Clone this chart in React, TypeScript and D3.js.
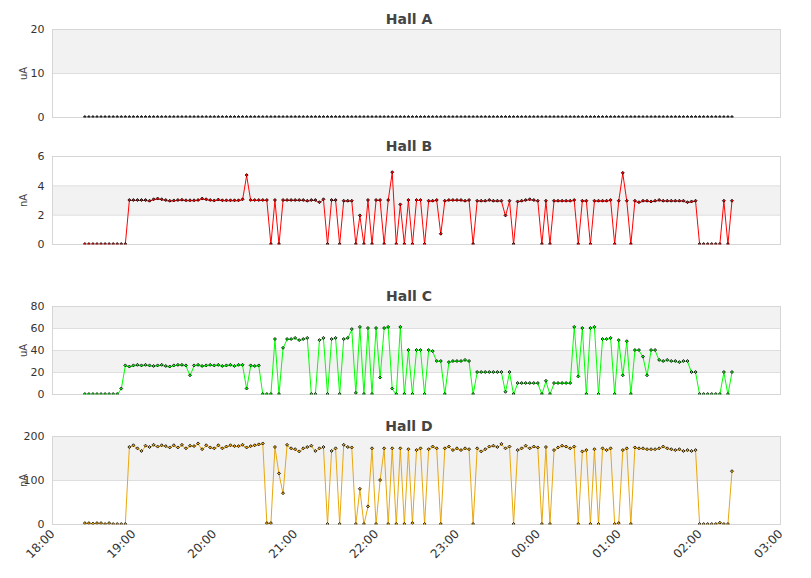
import React from "react";
import * as d3 from "d3";

// readings come every 3 minutes, 18:24 -> 02:24
const firstReading = new Date(2024, 0, 1, 18, 24);
const stepMinutes = 3;
const axisStart = new Date(2024, 0, 1, 18, 0);
const axisEnd = new Date(2024, 0, 2, 3, 0);

const hallA = [
  0, 0, 0, 0, 0, 0, 0, 0, 0, 0, 0, 0, 0, 0, 0, 0, 0, 0, 0, 0,
  0, 0, 0, 0, 0, 0, 0, 0, 0, 0, 0, 0, 0, 0, 0, 0, 0, 0, 0, 0,
  0, 0, 0, 0, 0, 0, 0, 0, 0, 0, 0, 0, 0, 0, 0, 0, 0, 0, 0, 0,
  0, 0, 0, 0, 0, 0, 0, 0, 0, 0, 0, 0, 0, 0, 0, 0, 0, 0, 0, 0,
  0, 0, 0, 0, 0, 0, 0, 0, 0, 0, 0, 0, 0, 0, 0, 0, 0, 0, 0, 0,
  0, 0, 0, 0, 0, 0, 0, 0, 0, 0, 0, 0, 0, 0, 0, 0, 0, 0, 0, 0,
  0, 0, 0, 0, 0, 0, 0, 0, 0, 0, 0, 0, 0, 0, 0, 0, 0, 0, 0, 0,
  0, 0, 0, 0, 0, 0, 0, 0, 0, 0, 0, 0, 0, 0, 0, 0, 0, 0, 0, 0,
  0,
];

const hallB = [
  0, 0, 0, 0, 0, 0, 0, 0, 0, 0, 0,
  3.0, 3.0, 3.0, 3.0, 3.0, 2.95, 3.05, 3.1, 3.05, 3.0, 2.95, 2.97, 3.0, 3.02, 2.98,
  2.98, 2.98, 3.0, 3.1, 3.05, 3.0, 2.97, 3.03, 2.98, 2.98, 2.98, 2.98, 2.98, 3.05,
  4.7,
  3.0, 3.0, 3.0, 3.0, 3.0,
  0, 3.0, 0,
  3.0, 3.0, 3.0, 3.0, 3.0, 3.0, 2.95, 3.0, 3.0, 2.85, 3.05,
  0, 3.0, 3.0, 0, 2.95, 2.95, 2.95,
  0, 1.95, 0, 3.0, 0, 3.0, 3.0, 0, 3.0, 4.9, 0, 2.7, 0, 3.0, 0, 3.0, 3.0, 0,
  2.95, 2.95, 3.0, 0.7,
  2.95, 3.0, 3.0, 3.0, 3.0, 2.95, 3.0,
  0,
  2.95, 2.95, 2.95, 3.0, 2.95, 2.95, 2.95,
  1.95, 2.95, 0, 2.9,
  2.95, 3.0, 3.05, 3.0, 2.95,
  0, 2.95, 0,
  2.95, 2.95, 2.95, 2.95, 2.95, 3.0,
  0, 2.95, 2.95, 0,
  2.95, 2.95, 2.95, 2.95, 3.0,
  0, 2.95, 4.85, 2.95, 0,
  2.95, 2.85, 2.95, 2.95, 2.9, 2.95, 3.0, 2.95, 2.95, 2.95, 2.95, 2.95, 2.95, 2.85, 2.9, 2.95,
  0, 0, 0, 0, 0, 0,
  2.95, 0, 2.95,
];

const hallC = [
  0, 0, 0, 0, 0, 0, 0, 0, 0, 5,
  26, 25, 26, 26.5, 26, 26.5, 26, 25.5, 26, 26.5, 25.5, 25, 26, 26.5, 26.5,
  26, 17, 26, 26.5, 25.5, 26, 26.5, 26, 26.5, 25.5, 26, 26.5, 25.5, 26.5, 26.5,
  5, 26, 25.5, 26,
  0, 0, 0,
  50, 0, 42,
  50, 50, 51, 49, 50, 51,
  0, 0,
  49, 51, 0, 50, 51, 0, 50, 51, 59, 1, 61, 0, 60, 0, 60, 15, 60, 61, 5, 0,
  61, 0, 40, 0, 40, 40, 0, 40, 39, 30, 30, 0,
  29, 30, 30, 30, 31, 30,
  0,
  20, 20, 20, 20, 20, 20, 20,
  2, 20, 0,
  10, 10, 10, 10, 10, 10,
  0, 12, 0,
  10, 10, 10, 10, 10,
  61, 16, 60, 0, 60, 61, 0,
  50, 50, 51,
  0, 49, 17, 48, 0,
  40, 40, 34, 17, 40, 40, 31,
  30, 31, 30, 30, 29, 30, 30,
  20, 20,
  0, 0, 0, 0, 0, 0,
  20, 0, 20,
];

const hallD = [
  2, 2, 1, 2, 2, 0, 2, 0, 0, 0, 0,
  175, 179, 172, 166, 178, 175, 180, 176, 179, 177, 174, 179, 174, 180, 172, 178, 177,
  183, 170, 179, 174, 172, 179, 172, 176, 179, 177, 177, 180, 174, 177, 179, 181, 183,
  2, 2,
  175, 115, 70, 180,
  172, 170, 165, 172, 175, 178, 166, 172, 175,
  0, 166, 172, 0, 180, 175, 174,
  0, 80, 0, 40, 172, 0, 100, 172, 0, 172, 0, 172, 0, 170, 2, 168, 172, 0,
  170, 176, 172, 0,
  172, 176, 168, 172, 168, 172, 170,
  0,
  172, 165, 170, 176, 178, 175, 182, 172, 176,
  0,
  168, 172, 178, 172, 176, 174,
  0, 175, 0,
  168, 174, 178, 176, 172, 176,
  0, 165, 168, 0, 170, 0, 172, 168, 172, 0, 2, 168, 172, 0,
  174, 172, 172, 170, 170, 170, 172, 176, 172, 170, 168, 170, 166, 168, 166, 168,
  0, 0, 0, 0, 0, 3, 0, 0,
  120,
];

const ticksA = [0, 10, 20];
const ticksB = [0, 2, 4, 6];
const ticksC = [0, 20, 40, 60, 80];
const ticksD = [0, 100, 200];

const panels = [
  { title: "Hall A", unit: "uA", ticks: ticksA, values: hallA, color: "#222222", top: 29 },
  { title: "Hall B", unit: "nA", ticks: ticksB, values: hallB, color: "#ff0000", top: 156 },
  { title: "Hall C", unit: "uA", ticks: ticksC, values: hallC, color: "#00ff00", top: 306 },
  { title: "Hall D", unit: "nA", ticks: ticksD, values: hallD, color: "#e8a70f", top: 436 },
];

const W = 811;
const H = 578;
const left = 52.5;
const right = 780.5;
const plotH = 88;
const font = "'DejaVu Sans', sans-serif";

const x = d3.scaleTime().domain([axisStart, axisEnd]).range([left, right]);
const times = hallA.map((_, i) => d3.timeMinute.offset(firstReading, i * stepMinutes));

function Panel({ p, idx, last }) {
  const top = p.top + 0.5;
  const bottom = top + plotH;
  const y = d3
    .scaleLinear()
    .domain([0, p.ticks[p.ticks.length - 1]])
    .range([bottom, top]);
  const line = d3
    .line<number>()
    .x((_, i) => x(times[i]))
    .y((d) => y(d));
  const clipId = `clip-${idx}`;

  return (
    <g>
      <defs>
        <clipPath id={clipId}>
          <rect x={left} y={top} width={right - left} height={plotH} />
        </clipPath>
      </defs>

      {/* alternating bands */}
      {p.ticks.slice(0, -1).map((t, k) =>
        k % 2 === 1 ? (
          <rect
            key={t}
            x={left}
            y={y(p.ticks[k + 1])}
            width={right - left}
            height={y(t) - y(p.ticks[k + 1])}
            fill="#f2f2f2"
          />
        ) : null
      )}

      {p.ticks.map((t) => (
        <g key={t}>
          <line x1={left} x2={right} y1={y(t)} y2={y(t)} stroke="#dedede" />
          <text
            x={left - 8}
            y={y(t)}
            dy="0.35em"
            textAnchor="end"
            fontSize={11}
            fill="#333"
            fontFamily={font}
          >
            {t}
          </text>
        </g>
      ))}

      <path
        d={line(p.values) || ""}
        fill="none"
        stroke={p.color}
        strokeWidth={1}
        clipPath={`url(#${clipId})`}
      />

      <rect
        x={left}
        y={top}
        width={right - left}
        height={plotH}
        fill="none"
        stroke="#d6d6d6"
      />

      {/* point markers: tiny diamonds */}
      <g clipPath={`url(#${clipId})`}>
        {p.values.map((v, i) => {
          const cx = x(times[i]);
          const cy = y(v) - 0.5;
          return (
            <path
              key={i}
              d={`M${cx},${cy - 1.5}L${cx + 1.5},${cy}L${cx},${cy + 1.5}L${cx - 1.5},${cy}Z`}
              fill={p.color}
              stroke="#000"
              strokeWidth={0.8}
            />
          );
        })}
      </g>

      <text
        x={409}
        y={p.top - 5}
        textAnchor="middle"
        fontSize={14}
        fontWeight="bold"
        fill="#444"
        fontFamily={font}
      >
        {p.title}
      </text>

      <text
        transform={`translate(27,${(top + bottom) / 2}) rotate(-90)`}
        textAnchor="middle"
        fontSize={10}
        fill="#444"
        fontFamily={font}
      >
        {p.unit}
      </text>

      {last &&
        x.ticks(d3.timeHour.every(1)).map((t) => (
          <text
            key={+t}
            transform={`translate(${x(t) + 3},${bottom + 10}) rotate(-45)`}
            textAnchor="end"
            fontSize={12}
            fill="#333"
            fontFamily={font}
          >
            {d3.timeFormat("%H:%M")(t)}
          </text>
        ))}
    </g>
  );
}

export default function App() {
  return (
    <svg width={W} height={H} style={{ display: "block", margin: -8 }}>
      <rect width={W} height={H} fill="#fff" />
      {panels.map((p, i) => (
        <Panel key={p.title} p={p} idx={i} last={i === panels.length - 1} />
      ))}
    </svg>
  );
}
